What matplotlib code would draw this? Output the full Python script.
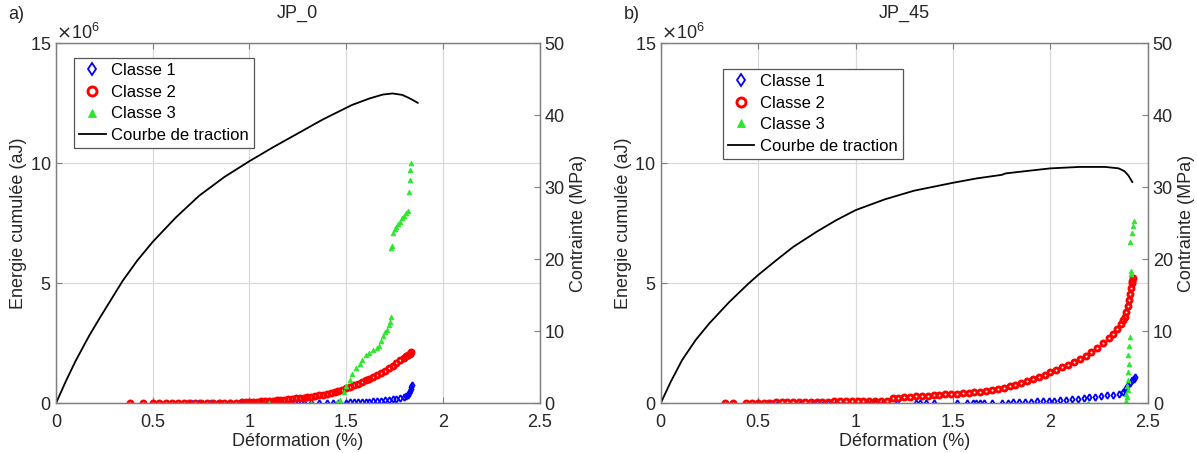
import numpy as np
import matplotlib.pyplot as plt
from matplotlib.ticker import FuncFormatter, ScalarFormatter

plt.rcParams['font.family'] = ['Liberation Sans', 'DejaVu Sans']
plt.rcParams['font.size'] = 13

# ---- JP_0 : tensile curve (strain %, stress MPa)
trac0_x = [0, 0.05, 0.1, 0.17, 0.23, 0.345, 0.42, 0.5, 0.62, 0.74, 0.87, 1.0, 1.12, 1.24,
           1.38, 1.53, 1.62, 1.69, 1.74, 1.79, 1.83, 1.87]
trac0_s = [0, 3.0, 5.8, 9.3, 12.0, 17.0, 19.8, 22.4, 25.8, 28.8, 31.4, 33.6, 35.5, 37.3,
           39.4, 41.4, 42.3, 42.85, 43.0, 42.8, 42.3, 41.7]

# ---- JP_0 : cumulative energy per class (strain %, energy x1e6 aJ)
cl1_a = [(0.7, 0), (0.74, 0), (0.8, 0), (0.85, 0), (0.9, 0), (0.95, 0), (0.97, 0), (1.0, 0),
         (1.03, 0), (1.06, 0), (1.09, 0), (1.12, 0), (1.15, 0), (1.19, 0), (1.22, 0), (1.25, 0),
         (1.28, 0.01), (1.32, 0.01), (1.36, 0.01), (1.4, 0.01), (1.43, 0.02), (1.46, 0.02),
         (1.5, 0.02), (1.52, 0.03), (1.54, 0.03), (1.56, 0.04), (1.58, 0.04), (1.6, 0.05),
         (1.62, 0.06), (1.64, 0.07), (1.66, 0.08), (1.68, 0.1), (1.7, 0.12), (1.72, 0.14),
         (1.74, 0.16), (1.76, 0.19), (1.78, 0.22), (1.8, 0.26), (1.81, 0.3), (1.82, 0.36),
         (1.825, 0.44), (1.83, 0.52), (1.835, 0.6), (1.835, 0.68), (1.84, 0.75)]
cl2_a = [(0.38, 0), (0.45, 0), (0.5, 0), (0.53, 0), (0.57, 0), (0.6, 0), (0.63, 0), (0.66, 0),
         (0.69, 0), (0.72, 0), (0.75, 0), (0.78, 0), (0.81, 0), (0.84, 0), (0.87, 0.01),
         (0.9, 0.01), (0.93, 0.02), (0.96, 0.03), (0.98, 0.04), (1.0, 0.05), (1.02, 0.06),
         (1.04, 0.06), (1.06, 0.07), (1.08, 0.08), (1.1, 0.09), (1.12, 0.1), (1.14, 0.12),
         (1.16, 0.13), (1.18, 0.15), (1.2, 0.16), (1.22, 0.18), (1.24, 0.2), (1.26, 0.21),
         (1.28, 0.23), (1.3, 0.25), (1.32, 0.27), (1.34, 0.29), (1.36, 0.32), (1.38, 0.35),
         (1.4, 0.38), (1.42, 0.42), (1.44, 0.46), (1.46, 0.5), (1.48, 0.56), (1.5, 0.62),
         (1.52, 0.68), (1.54, 0.74), (1.56, 0.8), (1.58, 0.87), (1.6, 0.95), (1.62, 1.02),
         (1.64, 1.1), (1.66, 1.17), (1.68, 1.25), (1.7, 1.34), (1.72, 1.45), (1.74, 1.56),
         (1.76, 1.68), (1.78, 1.8), (1.8, 1.9), (1.81, 1.95), (1.82, 2.0), (1.83, 2.06),
         (1.835, 2.12)]
cl3_a = [(1.1, 0), (1.32, 0.01), (1.45, 0.05), (1.47, 0.15), (1.49, 0.45), (1.5, 0.7),
         (1.52, 0.95), (1.53, 1.2), (1.55, 1.45), (1.57, 1.65), (1.58, 1.8), (1.6, 2.0),
         (1.62, 2.1), (1.64, 2.2), (1.66, 2.28), (1.67, 2.4), (1.68, 2.6), (1.69, 2.8),
         (1.7, 2.95), (1.71, 3.05), (1.72, 3.25), (1.725, 3.4), (1.73, 3.6), (1.73, 6.45),
         (1.735, 6.55), (1.74, 7.1), (1.75, 7.25), (1.76, 7.35), (1.77, 7.45), (1.78, 7.55),
         (1.79, 7.7), (1.8, 7.8), (1.81, 7.9), (1.82, 8.0), (1.825, 8.8), (1.83, 9.3),
         (1.83, 9.7), (1.835, 10.0)]

# ---- JP_45 : tensile curve
trac45_x = [0, 0.05, 0.11, 0.18, 0.25, 0.35, 0.45, 0.5, 0.6, 0.68, 0.8, 0.9, 1.0, 1.15,
            1.3, 1.5, 1.62, 1.75, 1.77, 1.9, 2.0, 2.15, 2.28, 2.35, 2.38, 2.4, 2.42]
trac45_s = [0, 2.9, 6.0, 8.8, 11.1, 14.0, 16.6, 17.8, 20.0, 21.7, 23.8, 25.4, 26.8, 28.3,
            29.5, 30.6, 31.2, 31.7, 31.9, 32.3, 32.6, 32.8, 32.8, 32.6, 32.2, 31.6, 30.7]

# ---- JP_45 : cumulative energy per class
cl1_b = [(0.5, 0), (0.55, 0), (0.6, 0), (0.72, 0), (0.78, 0), (0.8, 0), (0.84, 0), (0.86, 0),
         (0.9, 0), (1.06, 0), (1.08, 0), (1.1, 0), (1.14, 0), (1.21, 0), (1.31, 0), (1.33, 0),
         (1.36, 0), (1.4, 0), (1.52, 0), (1.57, 0), (1.6, 0), (1.62, 0), (1.64, 0), (1.66, 0),
         (1.7, 0), (1.75, 0.01), (1.78, 0.02), (1.81, 0.03), (1.84, 0.04), (1.87, 0.05),
         (1.9, 0.06), (1.93, 0.07), (1.96, 0.08), (1.99, 0.1), (2.02, 0.11), (2.05, 0.13),
         (2.08, 0.15), (2.11, 0.17), (2.14, 0.19), (2.17, 0.21), (2.2, 0.24), (2.23, 0.26),
         (2.26, 0.29), (2.29, 0.32), (2.32, 0.36), (2.35, 0.4), (2.37, 0.46), (2.38, 0.55),
         (2.39, 0.65), (2.4, 0.75), (2.41, 0.85), (2.42, 0.95), (2.43, 1.02), (2.435, 1.07)]
cl2_b = [(0.33, 0), (0.37, 0), (0.44, 0), (0.47, 0.01), (0.5, 0.01), (0.53, 0.02), (0.56, 0.02),
         (0.59, 0.03), (0.62, 0.03), (0.65, 0.03), (0.68, 0.04), (0.71, 0.04), (0.74, 0.05),
         (0.77, 0.05), (0.8, 0.05), (0.83, 0.06), (0.86, 0.06), (0.89, 0.07), (0.92, 0.07),
         (0.95, 0.08), (0.98, 0.08), (1.01, 0.09), (1.04, 0.09), (1.07, 0.1), (1.1, 0.1),
         (1.13, 0.11), (1.16, 0.11), (1.19, 0.2), (1.22, 0.23), (1.25, 0.25), (1.28, 0.26),
         (1.31, 0.28), (1.34, 0.29), (1.37, 0.31), (1.4, 0.33), (1.43, 0.35), (1.46, 0.37),
         (1.49, 0.39), (1.52, 0.4), (1.55, 0.41), (1.58, 0.43), (1.61, 0.45), (1.64, 0.48),
         (1.67, 0.52), (1.7, 0.56), (1.73, 0.6), (1.76, 0.65), (1.79, 0.7), (1.82, 0.77),
         (1.85, 0.85), (1.88, 0.93), (1.91, 1.01), (1.94, 1.09), (1.97, 1.18), (2.0, 1.3),
         (2.03, 1.4), (2.06, 1.5), (2.09, 1.6), (2.12, 1.72), (2.15, 1.84), (2.18, 1.96),
         (2.21, 2.12), (2.24, 2.3), (2.27, 2.5), (2.3, 2.72), (2.32, 2.9), (2.34, 3.1),
         (2.36, 3.3), (2.37, 3.45), (2.38, 3.6), (2.39, 3.8), (2.4, 4.05), (2.405, 4.3),
         (2.41, 4.55), (2.415, 4.8), (2.42, 5.0), (2.42, 5.1), (2.425, 5.2)]
cl3_b = [(2.19, 0), (2.39, 0.02), (2.39, 0.1), (2.395, 0.25), (2.39, 0.4), (2.4, 0.55),
         (2.395, 0.7), (2.4, 0.95), (2.4, 1.3), (2.405, 1.65), (2.4, 2.0), (2.405, 2.4),
         (2.41, 2.75), (2.415, 5.4), (2.415, 5.5), (2.41, 6.7), (2.42, 7.1), (2.425, 7.4),
         (2.43, 7.6)]

grid_col = '#d9d9d9'
spine_col = '#808080'
txt_col = '#262626'


def draw_panel(rect, title, trac_x, trac_s, c1, c2, c3, leg_anchor):
    ax = fig.add_axes(rect)
    ax2 = ax.twinx()

    c1 = np.array(c1)
    c2 = np.array(c2)
    c3 = np.array(c3)
    h1, = ax.plot(c1[:, 0], c1[:, 1] * 1e6, 'd', color='blue', mfc='none', ms=3.4, mew=1.3,
                  label='Classe 1')
    h2, = ax.plot(c2[:, 0], c2[:, 1] * 1e6, 'o', color='red', mfc='none', ms=3.6, mew=2.1,
                  label='Classe 2')
    h3, = ax.plot(c3[:, 0], c3[:, 1] * 1e6, '^', color='#2ee62e', ms=3.4, mew=0.6,
                  label='Classe 3')
    h4, = ax2.plot(trac_x, trac_s, '-', color='black', lw=1.3, label='Courbe de traction')

    ax.set_xlim(0, 2.5)
    ax.set_ylim(0, 15e6)
    ax2.set_ylim(0, 50)
    ax.set_xticks(np.arange(0, 2.51, 0.5))
    ax.set_yticks([0, 5e6, 10e6, 15e6])
    ax2.set_yticks(np.arange(0, 51, 10))
    ax.xaxis.set_major_formatter(FuncFormatter(lambda v, p: '%g' % v))

    fmt = ScalarFormatter(useMathText=True)
    fmt.set_powerlimits((6, 6))
    ax.yaxis.set_major_formatter(fmt)
    ax.yaxis.get_offset_text().set_fontsize(13)
    ax.yaxis.get_offset_text().set_color(txt_col)

    ax.grid(True, color=grid_col, lw=0.9)
    ax.set_axisbelow(True)
    for a in (ax, ax2):
        for s in a.spines.values():
            s.set_color(spine_col)
            s.set_linewidth(0.9)
        a.tick_params(direction='in', length=4, colors=spine_col, labelcolor=txt_col,
                      labelsize=13)
    ax.tick_params(top=True)
    ax.tick_params(axis='x', pad=8)

    ax.set_xlabel('Déformation (%)', color=txt_col, labelpad=1)
    ax.set_ylabel('Energie cumulée (aJ)', color=txt_col, labelpad=2)
    ax2.set_ylabel('Contrainte (MPa)', color=txt_col, labelpad=4)
    ax.set_title(title, color=txt_col, fontsize=13, pad=18)

    leg = ax2.legend(handles=[h1, h2, h3, h4], loc='upper left', bbox_to_anchor=leg_anchor,
                     borderaxespad=0, fancybox=False, edgecolor='#555555', framealpha=1,
                     fontsize=12, handlelength=1.6, handletextpad=0.35, labelspacing=0.4,
                     borderpad=0.3, markerscale=1.8)
    leg.get_frame().set_linewidth(0.9)
    return ax


fig = plt.figure(figsize=(11.97, 4.53), dpi=100)

draw_panel([0.0468, 0.110, 0.404, 0.795], 'JP_0', trac0_x, trac0_s,
           cl1_a, cl2_a, cl3_a, (0.037, 0.958))
draw_panel([0.552, 0.110, 0.407, 0.795], 'JP_45', trac45_x, trac45_s,
           cl1_b, cl2_b, cl3_b, (0.127, 0.928))

fig.text(0.007, 0.967, 'a)', fontsize=13, color=txt_col, va='center')
fig.text(0.521, 0.967, 'b)', fontsize=13, color=txt_col, va='center')

fig.savefig('out.png', dpi=100)
